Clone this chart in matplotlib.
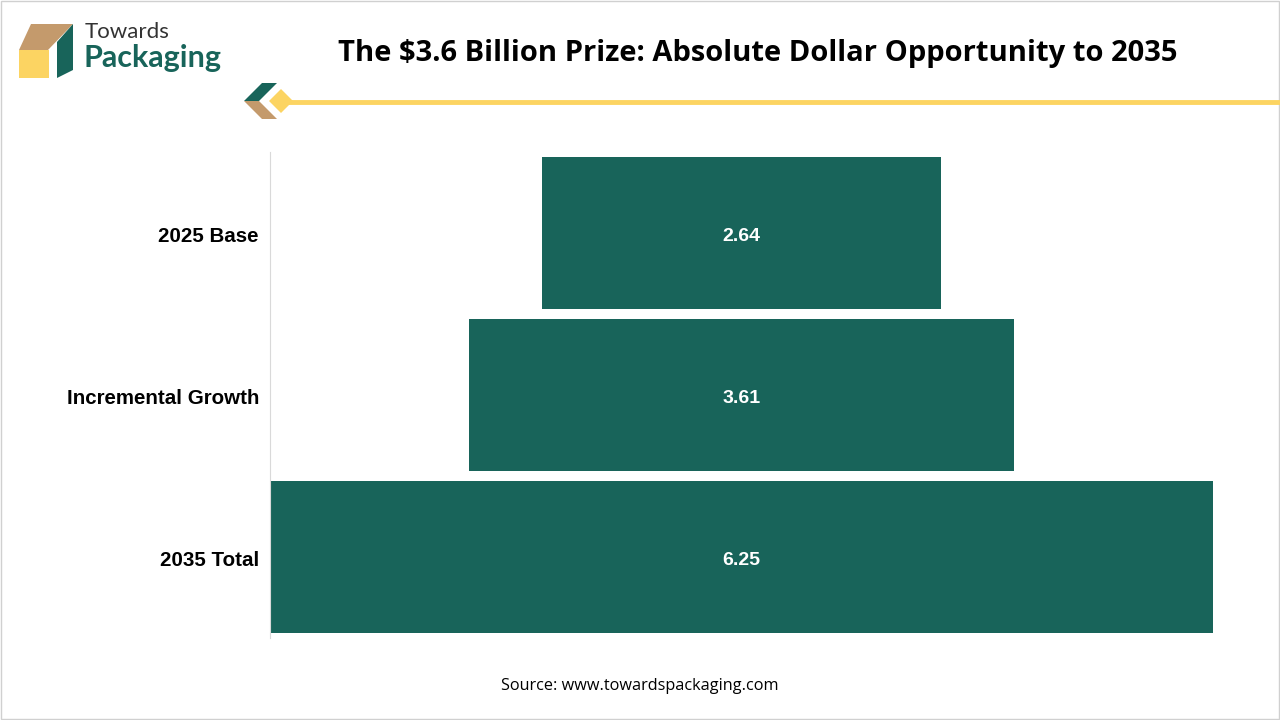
import matplotlib.pyplot as plt
from matplotlib.patches import Polygon, Rectangle

# Chart data
categories = ['2025 Base', 'Incremental Growth', '2035 Total']
values = [2.64, 3.61, 6.25]

GREEN = '#18645A'
TAN = '#C49A6C'
YELLOW = '#FCD462'

fig = plt.figure(figsize=(12.8, 7.2), dpi=100)
W, H = 1280, 720


def fx(px):
    return px / W


def fy(py):
    return 1 - py / H


# light frame around the whole picture
fig.patches.append(Rectangle((0.001, 0.001), 0.998, 0.997, transform=fig.transFigure,
                             fill=False, edgecolor='#D0D0D0', linewidth=1))

# Logo: box made of three shapes
fig.patches.append(Polygon([(fx(19), fy(50)), (fx(48), fy(50)), (fx(73), fy(24)), (fx(31), fy(24))],
                           closed=True, transform=fig.transFigure, facecolor=TAN, edgecolor='none'))
fig.patches.append(Rectangle((fx(19), fy(78)), fx(30), 28 / H, transform=fig.transFigure,
                             facecolor=YELLOW, edgecolor='none'))
fig.patches.append(Polygon([(fx(57), fy(42)), (fx(73), fy(24)), (fx(73), fy(70)), (fx(57), fy(78))],
                           closed=True, transform=fig.transFigure, facecolor=GREEN, edgecolor='none'))
fig.text(fx(85), fy(32), 'Towards', fontsize=16, color='#333333', family='Lato',
         va='center', ha='left')
fig.text(fx(84), fy(58), 'Packaging', fontsize=22, color=GREEN, fontweight='bold',
         family='Lato', va='center', ha='left')

# Title
fig.text(fx(758), fy(53), 'The $3.6 Billion Prize: Absolute Dollar Opportunity to 2035',
         fontsize=21, fontweight='bold', family='Open Sans', ha='center', va='center')

# Decorative divider with arrow and diamond
fig.add_artist(plt.Line2D([fx(285), fx(1280)], [fy(102), fy(102)], transform=fig.transFigure,
                          color=YELLOW, linewidth=3.5))
fig.patches.append(Polygon([(fx(244), fy(101)), (fx(262), fy(83)), (fx(277), fy(83)), (fx(259), fy(101))],
                           closed=True, transform=fig.transFigure, facecolor=GREEN, edgecolor='none'))
fig.patches.append(Polygon([(fx(244), fy(101)), (fx(259), fy(101)), (fx(277), fy(119)), (fx(262), fy(119))],
                           closed=True, transform=fig.transFigure, facecolor=TAN, edgecolor='none'))
fig.patches.append(Polygon([(fx(269), fy(101)), (fx(281), fy(89)), (fx(293), fy(101)), (fx(281), fy(113))],
                           closed=True, transform=fig.transFigure, facecolor=YELLOW, edgecolor='none'))

# Funnel chart
ax = fig.add_axes([fx(270), fy(638), fx(1213) - fx(270), (638 - 152) / H])
vmax = max(values)
center = vmax / 2
lefts = [center - v / 2 for v in values]
ypos = list(range(len(categories)))
ax.barh(ypos, values, left=lefts, height=0.94, color=GREEN)
for y, v in zip(ypos, values):
    ax.text(center, y + 0.01, f'{v:.2f}', color='white', fontweight='bold', fontsize=14,
            family='Liberation Sans', ha='center', va='center_baseline')

ax.set_xlim(0, vmax)
ax.set_ylim(2.5, -0.5)
ax.set_yticks([y + 0.01 for y in ypos])
ax.set_yticklabels(categories, fontweight='bold', fontsize=14.8, family='Liberation Sans',
                   va='center_baseline')
ax.tick_params(axis='y', length=0, pad=8)
ax.set_xticks([])
for side in ['top', 'right', 'bottom']:
    ax.spines[side].set_visible(False)
ax.spines['left'].set_color('#D9D9D9')

# Source
fig.text(fx(640), fy(686), 'Source: www.towardspackaging.com', fontsize=11.7,
         family='Open Sans', ha='center', va='center')

fig.savefig('out.png', dpi=100)
